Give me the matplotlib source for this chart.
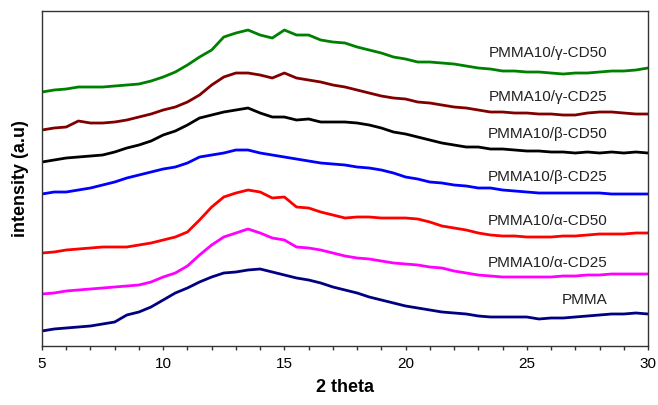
import matplotlib
matplotlib.use('Agg')
import matplotlib.pyplot as plt
import numpy as np

plt.rcParams['font.family'] = ['Liberation Sans', 'DejaVu Sans']

# 2 theta, paso de 0.5 grados
theta = np.arange(5, 30.01, 0.5)

# intensidades (unidades arbitrarias, ya desplazadas)
pmma = [15, 17, 18, 19, 20, 22, 24, 31, 34, 39, 46, 53, 58, 64, 69, 73, 74, 76, 77, 74,
        71, 68, 66, 63, 59, 56, 53, 49, 46, 43, 40, 38, 36, 34, 33, 32, 30, 29, 29, 29,
        29, 27, 28, 28, 29, 30, 31, 32, 32, 33, 32]
alfa25 = [52, 53, 55, 56, 57, 58, 59, 60, 61, 64, 69, 73, 80, 91, 101, 109, 113, 117, 113, 108,
          106, 99, 98, 96, 93, 90, 88, 87, 85, 83, 82, 81, 79, 78, 75, 73, 71, 70, 69, 69,
          69, 69, 69, 70, 70, 71, 71, 72, 72, 72, 72]
alfa50 = [93, 94, 96, 97, 98, 99, 99, 99, 101, 103, 106, 109, 114, 126, 139, 149, 153, 156, 154, 148,
          149, 139, 138, 134, 131, 128, 129, 129, 128, 128, 128, 127, 124, 120, 118, 116, 113, 111, 110, 110,
          109, 109, 109, 110, 110, 111, 112, 112, 112, 113, 113]
beta25 = [152, 154, 154, 156, 158, 161, 164, 168, 171, 174, 177, 179, 183, 189, 191, 193, 196, 196, 193, 191,
          189, 187, 185, 183, 182, 181, 179, 178, 176, 173, 169, 167, 164, 163, 161, 160, 158, 158, 156, 155,
          154, 153, 153, 153, 153, 153, 153, 152, 152, 152, 152]
beta50 = [184, 186, 188, 189, 190, 191, 194, 198, 201, 205, 211, 215, 221, 228, 231, 234, 236, 238, 233, 229,
          229, 226, 227, 224, 224, 224, 223, 221, 218, 214, 212, 209, 206, 203, 201, 199, 199, 197, 197, 196,
          195, 195, 194, 194, 193, 194, 193, 194, 193, 194, 193]
gamma25 = [216, 218, 219, 225, 223, 223, 224, 226, 229, 232, 236, 239, 244, 251, 261, 269, 273, 273, 271, 268,
           273, 268, 266, 264, 261, 259, 256, 253, 250, 248, 247, 244, 243, 241, 239, 238, 236, 234, 234, 233,
           233, 232, 232, 231, 231, 233, 234, 234, 233, 232, 232]
gamma50 = [254, 256, 257, 259, 259, 259, 260, 261, 262, 265, 269, 274, 281, 289, 296, 309, 313, 316, 311, 308,
           316, 311, 311, 306, 304, 303, 299, 296, 293, 289, 287, 284, 284, 283, 282, 280, 278, 277, 275, 275,
           274, 274, 273, 272, 273, 273, 274, 275, 275, 276, 278]

series = [pmma, alfa25, alfa50, beta25, beta50, gamma25, gamma50]
nombres = ['PMMA', 'PMMA10/\u03b1-CD25', 'PMMA10/\u03b1-CD50', 'PMMA10/\u03b2-CD25',
           'PMMA10/\u03b2-CD50', 'PMMA10/\u03b3-CD25', 'PMMA10/\u03b3-CD50']
colores = ['#000080', '#ff00ff', '#ff0000', '#0000ff', '#000000', '#800000', '#008000']
y_texto = [46, 83, 125, 169, 212, 249, 293]

fig = plt.figure(figsize=(6.58, 4.05), dpi=100)
ax = fig.add_axes([0.0638, 0.1457, 0.921, 0.8271])

for datos, nombre, color, yt in zip(series, nombres, colores, y_texto):
    ax.plot(theta, datos, color=color, linewidth=2.0)
    ax.text(28.31, yt, nombre, ha='right', va='center', fontsize=11, color='#222222')

ax.set_xlim(5, 30)
ax.set_ylim(0, 335)
ax.set_xticks([5, 10, 15, 20, 25, 30])
ax.set_xticks(np.arange(5, 31, 1), minor=True)
ax.set_yticks([])
ax.tick_params(axis='x', which='both', direction='out', length=3, width=1,
               labelsize=11, color='#333333', pad=5)
for s in ax.spines.values():
    s.set_color('#333333')
    s.set_linewidth(1)

ax.set_xlabel('2 theta', fontsize=13, fontweight='bold', labelpad=6)
ax.set_ylabel('intensity (a.u)', fontsize=13, fontweight='bold', labelpad=9)

fig.savefig('out.png', dpi=100)
